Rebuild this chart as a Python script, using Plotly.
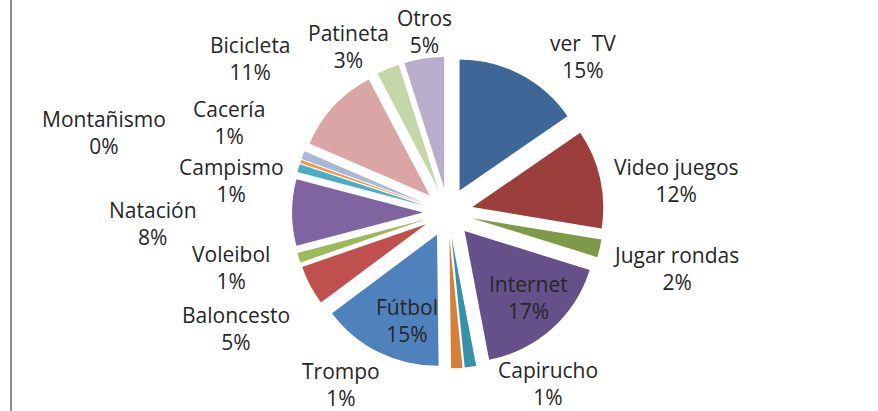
import plotly.graph_objects as go

# ---- data ----
labels = ["ver  TV", "Video juegos", "Jugar rondas", "Internet", "Capirucho", "Trompo",
          "Fútbol", "Baloncesto", "Voleibol", "Natación", "Campismo", "Montañismo",
          "Cacería", "Bicicleta", "Patineta", "Otros"]
values = [15.4, 12.2, 2.2, 17.2, 1.4, 1.4,
          15.0, 4.9, 1.2, 8.2, 1.0, 0.4,
          1.0, 10.8, 2.8, 4.9]
colors = ["#3E6797", "#9C3F3C", "#7E9A48", "#65508A", "#3792A9", "#D5803A",
          "#4F81BD", "#C0504D", "#9BBB59", "#8064A2", "#4BACC6", "#F79646",
          "#A7B8D8", "#D9A6A5", "#C5D6A8", "#B8ADCB"]

# label block centres in pixels (x, y from top) — layout only
label_pos = [(583, 57), (676, 180), (676, 268), (528, 297), (548, 383), (341, 384),
             (407, 320), (236, 328), (231, 267), (153, 223), (231, 180), (104, 132),
             (229, 123), (250, 58), (348, 47), (424, 31)]

W, H = 878, 411
total = sum(values)
CX, CY, R, PULL = 448, 212.5, 131, 0.19
half = R * (1 + PULL)

fig = go.Figure()
fig.add_trace(go.Pie(
    labels=labels, values=values, sort=False, direction="clockwise", rotation=0,
    marker=dict(colors=colors, line=dict(width=0)),
    pull=PULL, textinfo="none", hoverinfo="label+percent",
    domain=dict(x=[(CX - half - 40) / W, (CX + half + 40) / W],
                y=[1 - (CY + half) / H, 1 - (CY - half) / H]),
    showlegend=False,
))

annotations = []
for lab, v, (px, py) in zip(labels, values, label_pos):
    pct = int(v / total * 100 + 0.5)
    txt = lab.replace("  ", "\u00a0\u00a0") + "<br>" + f"{pct}%"
    annotations.append(dict(x=px / W, y=1 - py / H, xref="paper", yref="paper",
                            text=txt, showarrow=False, xanchor="center", yanchor="middle",
                            align="center",
                            font=dict(family="Open Sans", size=21, color="#262626")))

fig.update_layout(
    width=W, height=H, margin=dict(l=0, r=0, t=0, b=0),
    paper_bgcolor="white", plot_bgcolor="white",
    annotations=annotations,
    shapes=[dict(type="line", xref="paper", yref="paper", x0=11 / W, x1=11 / W, y0=0, y1=1,
                 line=dict(color="#8C8C8C", width=2))],
)

fig.write_html("out.html", config={"displayModeBar": False},
               post_script="document.body.style.margin='0px';")
